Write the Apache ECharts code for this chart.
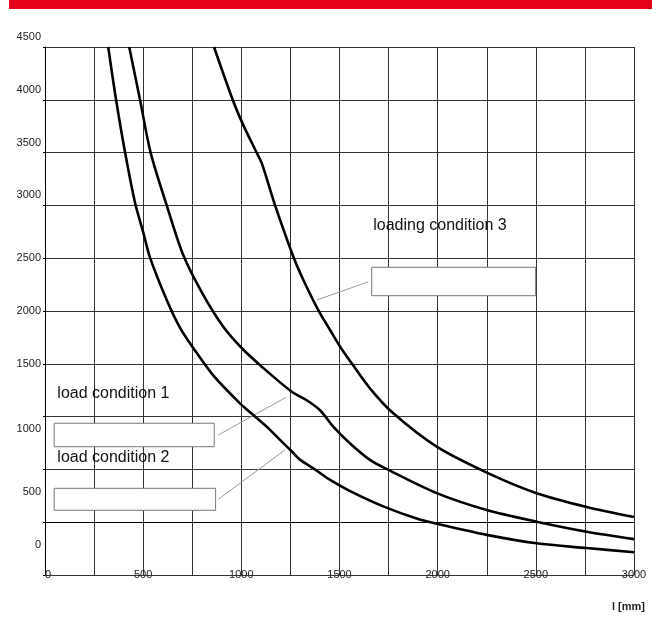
<!DOCTYPE html>
<html>
<head>
<meta charset="utf-8">
<script src="https://cdn.jsdelivr.net/npm/echarts@6/dist/echarts.min.js"></script>
<style>
  html, body { margin: 0; padding: 0; background: #fff; }
  #chart { width: 660px; height: 618px; }
</style>
</head>
<body>
<div id="chart"></div>
<script>
// curves: [l in mm, value]
const loadCondition2 = [
  [322, 4500], [362, 4000], [408, 3500], [458, 3030], [501, 2740], [535, 2505],
  [620, 2104], [688, 1840], [755, 1650], [857, 1390], [993, 1125], [1061, 1015],
  [1129, 905], [1197, 780], [1265, 655], [1300, 590], [1367, 510], [1452, 400],
  [1554, 295], [1723, 150], [1893, 35], [2012, -22], [2250, -120], [2504, -200],
  [2759, -245], [3000, -285]
]
const loadCondition1 = [
  [429, 4500], [484, 4000], [538, 3500], [620, 3000], [704, 2530], [806, 2152],
  [908, 1851], [1003, 1647], [1104, 1473], [1257, 1235], [1333, 1155], [1401, 1060],
  [1468, 905], [1554, 745], [1655, 590], [1749, 495], [1995, 275], [2250, 115],
  [2504, 5], [2759, -90], [3000, -160]
]
const loadCondition3 = [
  [861, 4500], [956, 4000], [1010, 3760], [1078, 3500], [1104, 3400], [1172, 3000],
  [1265, 2514], [1316, 2294], [1392, 2009], [1452, 1820], [1503, 1662], [1562, 1505],
  [1655, 1268], [1774, 1031], [1995, 715], [2250, 470], [2504, 275], [2759, 145],
  [3000, 50]
]

// annotation labels, boxes and leader lines (data coords)
const noteTexts = ['load condition 1', 'load condition 2', 'loading condition 3']
const noteAnchors = [[63, 1214], [63, 614], [1672, 2812]]
const noteBoxes = [
  [[47, 937], [862, 715]],
  [[47, 321], [869, 113]],
  [[1664, 2414], [2499, 2145]]
]
const noteLeaders = [
  [[883, 826], [1228, 1183]],
  [[883, 217], [1222, 684]],
  [[1647, 2277], [1384, 2104]]
]

const chart = echarts.init(document.getElementById('chart'))

// the scanned y labels sit off their grid lines; nudge them the same way
const labelShift = { 4500: 'up', 4000: 'up', 3500: 'up', 3000: 'up', 1000: 'dn1', 500: 'dn2', 0: 'dn2' }

const lineSeries = (name, data) => ({
  name: name,
  type: 'line',
  data: data,
  smooth: 0.3,
  showSymbol: false,
  silent: true,
  lineStyle: { color: '#000', width: 2.6 },
  z: 5
})

const series = [
  lineSeries('load condition 2', loadCondition2),
  lineSeries('load condition 1', loadCondition1),
  lineSeries('loading condition 3', loadCondition3)
]
series[2].markArea = {
  silent: true,
  itemStyle: { color: '#fff', borderColor: '#777', borderWidth: 1 },
  data: noteBoxes.map(b => [{ coord: b[0] }, { coord: b[1] }])
}
series[2].markLine = {
  silent: true,
  symbol: ['none', 'none'],
  animation: false,
  label: { show: false },
  lineStyle: { color: '#999', width: 1, type: 'solid' },
  data: noteLeaders.map(l => [{ coord: l[0] }, { coord: l[1] }])
}

chart.setOption({
  animation: false,
  textStyle: { fontFamily: 'Liberation Sans, Arial, sans-serif' },
  grid: { left: 45, right: 26, top: 47, bottom: 43 },
  xAxis: {
    type: 'value',
    min: 0,
    max: 3000,
    interval: 250,
    axisLine: { lineStyle: { color: '#000', width: 1 } },
    axisTick: { show: false },
    axisLabel: {
      color: '#222',
      fontSize: 11,
      margin: 0,
      verticalAlign: 'middle',
      alignMinLabel: 'left',
      formatter: v => (v % 500 === 0 ? String(v) : '')
    },
    splitLine: { show: true, lineStyle: { color: '#333', width: 1 } }
  },
  yAxis: {
    type: 'value',
    min: -500,
    max: 4500,
    interval: 500,
    axisLine: { show: true, lineStyle: { color: '#000', width: 1 } },
    axisTick: { show: true, length: 2, lineStyle: { color: '#000' } },
    axisLabel: {
      color: '#222',
      fontSize: 11,
      margin: 4,
      formatter: v => {
        if (v < 0) return ''
        const s = labelShift[v]
        return s ? '{' + s + '|' + v + '}' : String(v)
      },
      rich: {
        up: { fontSize: 11, color: '#222', padding: [0, 0, 20, 0] },
        dn1: { fontSize: 11, color: '#222', padding: [24, 0, 0, 0] },
        dn2: { fontSize: 11, color: '#222', padding: [45, 0, 0, 0] }
      }
    },
    splitLine: { show: true, lineStyle: { color: '#333', width: 1 } }
  },
  series: series
})

// header bar, axis unit and the annotation labels
const graphics = [
  { type: 'rect', shape: { x: 9, y: 0, width: 643, height: 9 }, style: { fill: '#e2001a' } },
  {
    type: 'text', x: 645, y: 607,
    style: {
      text: 'l [mm]', fill: '#222', font: 'bold 11px Liberation Sans, Arial, sans-serif',
      align: 'right', verticalAlign: 'middle'
    }
  }
]
noteTexts.forEach((t, i) => {
  const p = chart.convertToPixel({ gridIndex: 0 }, noteAnchors[i])
  graphics.push({
    type: 'text', x: p[0], y: p[1], z: 10,
    style: {
      text: t, fill: '#111', font: '16px Liberation Sans, Arial, sans-serif',
      align: 'left', verticalAlign: 'middle'
    }
  })
})
chart.setOption({ graphic: graphics })
</script>
</body>
</html>
